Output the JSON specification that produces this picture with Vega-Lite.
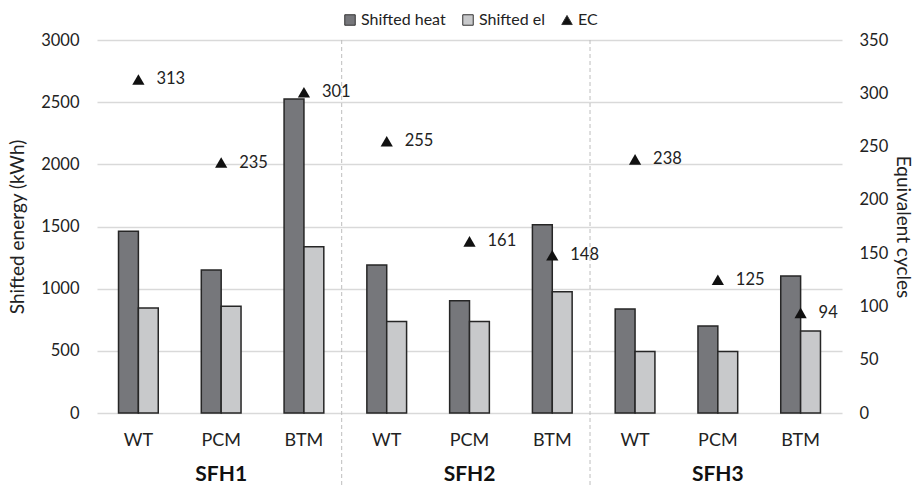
{
  "$schema": "https://vega.github.io/schema/vega-lite/v6.json",
  "width": 745,
  "height": 373,
  "autosize": {"type": "none"},
  "padding": {"left": 97, "top": 40, "right": 75, "bottom": 75},
  "config": {
    "view": {"stroke": null},
    "font": "Lato",
    "axis": {"labelFont": "Lato", "titleFont": "Lato", "labelColor": "#222", "titleColor": "#222", "titleFontWeight": "normal"},
    "legend": {"labelFont": "Lato", "layout": {"anchor": "middle"}}
  },
  "datasets": {
    "bars": [
      {"key": "SFH1 WT", "series": "Shifted heat", "value": 1462},
      {"key": "SFH1 WT", "series": "Shifted el", "value": 845},
      {"key": "SFH1 PCM", "series": "Shifted heat", "value": 1150},
      {"key": "SFH1 PCM", "series": "Shifted el", "value": 858},
      {"key": "SFH1 BTM", "series": "Shifted heat", "value": 2525},
      {"key": "SFH1 BTM", "series": "Shifted el", "value": 1337},
      {"key": "SFH2 WT", "series": "Shifted heat", "value": 1190},
      {"key": "SFH2 WT", "series": "Shifted el", "value": 735},
      {"key": "SFH2 PCM", "series": "Shifted heat", "value": 903},
      {"key": "SFH2 PCM", "series": "Shifted el", "value": 735},
      {"key": "SFH2 BTM", "series": "Shifted heat", "value": 1515},
      {"key": "SFH2 BTM", "series": "Shifted el", "value": 976},
      {"key": "SFH3 WT", "series": "Shifted heat", "value": 836},
      {"key": "SFH3 WT", "series": "Shifted el", "value": 494},
      {"key": "SFH3 PCM", "series": "Shifted heat", "value": 700},
      {"key": "SFH3 PCM", "series": "Shifted el", "value": 494},
      {"key": "SFH3 BTM", "series": "Shifted heat", "value": 1102},
      {"key": "SFH3 BTM", "series": "Shifted el", "value": 660}
    ],
    "ec": [
      {"key": "SFH1 WT", "series": "EC", "ec": 313},
      {"key": "SFH1 PCM", "series": "EC", "ec": 235},
      {"key": "SFH1 BTM", "series": "EC", "ec": 301},
      {"key": "SFH2 WT", "series": "EC", "ec": 255},
      {"key": "SFH2 PCM", "series": "EC", "ec": 161},
      {"key": "SFH2 BTM", "series": "EC", "ec": 148},
      {"key": "SFH3 WT", "series": "EC", "ec": 238},
      {"key": "SFH3 PCM", "series": "EC", "ec": 125},
      {"key": "SFH3 BTM", "series": "EC", "ec": 94}
    ],
    "sep": [
      {"key": "SFH1 BTM"},
      {"key": "SFH2 BTM"}
    ]
  },
  "layer": [
    {
      "layer": [
        {
          "data": {"name": "bars"},
          "mark": {"type": "bar", "stroke": "#262626", "strokeWidth": 1.5},
          "encoding": {
            "x": {
              "field": "key", "type": "nominal", "sort": null,
              "scale": {"type": "band", "domain": ["SFH1 WT","SFH1 PCM","SFH1 BTM","SFH2 WT","SFH2 PCM","SFH2 BTM","SFH3 WT","SFH3 PCM","SFH3 BTM"], "paddingInner": 0.52, "paddingOuter": 0.26},
              "axis": {"orient": "bottom", "title": null, "labelExpr": "split(datum.value, ' ')[1]", "labelAngle": 0, "labelFontSize": 18, "labelPadding": 18, "ticks": false, "domain": false, "grid": false}
            },
            "xOffset": {"field": "series", "type": "nominal", "scale": {"domain": ["Shifted heat", "Shifted el"], "paddingInner": 0, "paddingOuter": 0}},
            "y": {
              "field": "value", "type": "quantitative",
              "scale": {"domain": [0, 3000], "nice": false},
              "axis": {"orient": "left", "title": "Shifted energy (kWh)", "titleFontSize": 19, "titlePadding": 13, "format": "d", "values": [0,500,1000,1500,2000,2500,3000], "labelFontSize": 16.5, "labelPadding": 18, "ticks": false, "domain": false, "grid": true, "gridColor": "#d9d9d9", "gridWidth": 1.5}
            },
            "color": {
              "field": "series", "type": "nominal",
              "scale": {"domain": ["Shifted heat", "Shifted el", "EC"], "range": ["#76777b", "#c8c9cb", "#111111"]},
              "legend": {
                "orient": "top", "title": null, "direction": "horizontal", "offset": 12,
                "labelFontSize": 16, "labelColor": "#222", "symbolSize": 110, "symbolStrokeColor": "#333", "symbolStrokeWidth": 1, "columnPadding": 14, "labelOffset": 3,
                "encode": {"symbols": {"update": {"shape": {"signal": "datum.label === 'EC' ? 'triangle-up' : 'square'"}}}}
              }
            }
          }
        },
        {
          "data": {"name": "sep"},
          "mark": {"type": "rule", "strokeDash": [4, 3], "color": "#bdbdbd", "strokeWidth": 1},
          "encoding": {
            "x": {"field": "key", "type": "nominal", "bandPosition": 1.45},
            "y": {"datum": 3000, "type": "quantitative"},
            "y2": {"datum": -600}
          }
        }
      ]
    },
    {
      "data": {"name": "ec"},
      "layer": [
        {
          "mark": {"type": "point", "shape": "triangle-up", "filled": true, "size": 150, "opacity": 1},
          "encoding": {
            "x": {
              "field": "key", "type": "nominal", "sort": null,
              "axis": {"orient": "bottom", "title": null, "offset": 34, "labelExpr": "indexof(datum.value, 'PCM') >= 0 ? split(datum.value, ' ')[0] : ''", "labelAngle": 0, "labelFontSize": 21, "labelFontWeight": "bold", "labelColor": "#111", "labelPadding": 16, "ticks": false, "domain": false, "grid": false}
            },
            "y": {
              "field": "ec", "type": "quantitative",
              "scale": {"domain": [0, 350], "nice": false},
              "axis": {"orient": "right", "title": "Equivalent cycles", "titleFontSize": 19, "titlePadding": 5, "values": [0,50,100,150,200,250,300,350], "labelFontSize": 16.5, "labelPadding": 17, "ticks": false, "domain": false, "grid": false}
            },
            "color": {"field": "series", "type": "nominal"}
          }
        },
        {
          "mark": {"type": "text", "align": "left", "baseline": "middle", "dx": 18, "fontSize": 16.5, "color": "#222"},
          "encoding": {
            "x": {"field": "key", "type": "nominal", "sort": null},
            "y": {"field": "ec", "type": "quantitative"},
            "text": {"field": "ec", "type": "quantitative"}
          }
        }
      ]
    }
  ],
  "resolve": {"scale": {"y": "independent"}, "axis": {"x": "independent"}}
}
